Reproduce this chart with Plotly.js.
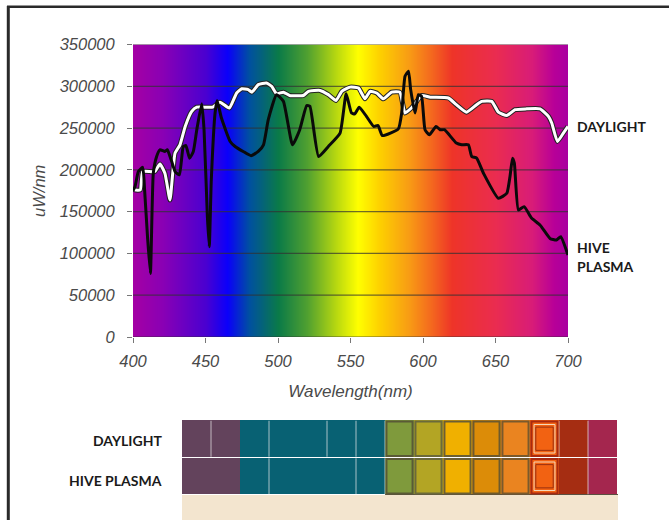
<!DOCTYPE html>
<html><head><meta charset="utf-8">
<script src="https://cdn.plot.ly/plotly-3.0.1.min.js"></script>
<style>html,body{margin:0;padding:0;background:#fff}</style></head>
<body><div id="chart" style="width:669px;height:520px"></div>
<script>
var W=669,H=520;
var wavelengthTicks=[400,450,500,550,600,650,700];
var powerTicks=[0,50000,100000,150000,200000,250000,300000,350000];
var spectrumStops=[400,420,450,465,480,500,520,540,555,570,590,605,620,650,675,690,700];
var spectrumColors=['#a400a4','#8a00b4','#4a00d0','#0a00fa','#0050a0','#0a7a48','#50a030','#b8d810','#ffff00','#fdd000','#f89c14','#f46a1e','#ee3428','#ea2c50','#d81c78','#b80098','#a800a0'];

var daylightX=[400,401.4,405,406.7,415,418.6,422,425.5,427.4,429,432.4,436,440.5,444,455,460,466.4,471.5,475,479.5,482,486.4,492,495.6,499,503.7,508,517.5,521,529,534.7,540,544,549.7,555.5,560,563.5,568,572.7,578.4,584,587.6,592,594,599,605,617.5,623,630,637,640.5,647.4,652,657.8,663.5,671.5,680.7,686.5,688.8,692.7,696.8,700];
var daylightY=[178000,176000,176000,198000,198000,207000,196000,164000,196000,220000,230000,252000,270000,275000,275000,281000,274000,292000,297000,296000,293000,302000,304000,300000,291000,293000,289000,289000,294000,295000,290000,283000,294000,299000,298000,285000,294000,292000,285000,293000,293000,268000,274000,278000,289000,287000,286000,278000,269000,278000,282000,282000,269000,265000,272000,273000,273000,264000,256000,234000,244000,252000];
var plasmaX=[400,401.4,403.7,406.7,408,410,412,414,416.3,418.6,422,423.7,426.7,429,432,434.7,436.5,439,441.6,444,447.4,449,451.3,452.6,454,456.6,458,461,467,470.4,476,481.4,486.4,490,493.3,499,503.7,510,515,519.8,522,528,534.7,542.8,547,550.7,553,556,561,566,569,572,583,585.3,587.6,590,591.5,594.5,596.8,599,601.4,604.4,609,611.8,614.8,623,626.7,631.3,633.6,637,641.7,652,657.8,660,661.7,663,665.8,669.7,675,680.7,687.6,692,695,700];
var plasmaY=[175000,180000,198000,203000,176000,120000,76000,196000,216000,224000,222000,224000,210000,198000,194000,228000,229000,214000,222000,248000,279000,248000,144000,108000,188000,268000,283000,262000,234000,228000,222000,217000,222000,230000,260000,290000,282000,230000,248000,277000,276000,216000,228000,244000,291000,268000,267000,275000,264000,252000,253000,241000,249000,268000,312000,318000,296000,268000,290000,288000,248000,242000,252000,248000,248000,232000,230000,230000,216000,214000,196000,166000,172000,192000,214000,208000,152000,156000,142000,134000,118000,116000,120000,98000];

var bandNames=['b1','b2','b3','b4','b5','b6','b7','b8','b9','b10','b11','b12','b13','b14','b15'];
var bandRows=['HIVE PLASMA','DAYLIGHT'];
var bandDaylight=[0,0,1,1,1,1,1,2,3,4,5,6,7,8,9];
var bandPlasma=[0,0,1,1,1,1,1,2,3,4,5,6,7,8,9];
var bandColors=['#63435c','#086173','#7f9a3c','#b3a524','#f0b000','#dc8c08','#ea8420','#f26212','#a52d12','#a4264e'];
var outlinedBands=[7,8,9,10,11,12];
var outlineColors=['#5a5a36','#6b6a3a','#6b5f34','#6e5a2c','#7a5a2c','#a82a10'];
var daylightSeparators=[0.5,2.5,4.5,5.5,6.5,12.5,13.5];
var plasmaSeparators=[2.5,5.5,6.5,13.5];

function fx(p){return p/W} function fy(p){return 1-p/H}
var dom={x:[fx(133),fx(568)],y:[fy(337),fy(44.5)]};
var dom2={x:[fx(182),fx(617)],y:[fy(495),fy(420)]};

var stopsColorscale=spectrumStops.map(function(s,i){return [(s-400)/300,spectrumColors[i]]});
var gridX=[],gridY=[];
powerTicks.forEach(function(v){gridX.push(400,700,null);gridY.push(v,v,null)});
var curveSmooth=0.45;

var traces=[
 {type:'heatmap',x:[400,700],y:[0,350000],z:[[400,700],[400,700]],colorscale:stopsColorscale,zmin:400,zmax:700,zsmooth:'best',showscale:false,hoverinfo:'skip'},
 {type:'scatter',mode:'lines',x:gridX,y:gridY,line:{color:'rgba(50,50,50,0.7)',width:1.2},hoverinfo:'skip',showlegend:false},
 {type:'scatter',mode:'lines',x:daylightX,y:daylightY,line:{color:'#222',width:5,shape:'spline',smoothing:curveSmooth},showlegend:false},
 {type:'scatter',mode:'lines',x:daylightX,y:daylightY,line:{color:'#fff',width:3,shape:'spline',smoothing:curveSmooth},name:'DAYLIGHT',showlegend:false},
 {type:'scatter',mode:'lines',x:plasmaX,y:plasmaY,line:{color:'#0a0a0a',width:3,shape:'spline',smoothing:curveSmooth},name:'HIVE PLASMA',showlegend:false},
 {type:'heatmap',xaxis:'x2',yaxis:'y2',x:bandNames,y:bandRows,z:[bandPlasma,bandDaylight],zmin:0,zmax:9,showscale:false,xgap:0,ygap:1,hoverinfo:'skip',
  colorscale:bandColors.reduce(function(a,c,i,arr){a.push([i/arr.length,c],[(i+1)/arr.length,c]);return a},[])}
];

var shapes=[
 {type:'line',xref:'paper',yref:'paper',x0:fx(7),x1:1,y0:fy(6.7),y1:fy(6.7),line:{color:'#2a2a2a',width:2.5},layer:'below'},
 {type:'line',xref:'paper',yref:'paper',x0:fx(8.3),x1:fx(8.3),y0:0,y1:fy(6),line:{color:'#2a2a2a',width:3},layer:'below'},
 {type:'rect',xref:'paper',yref:'paper',x0:fx(182),x1:fx(618),y0:0,y1:fy(495),line:{width:0},fillcolor:'#f3e5cf',layer:'below'},
 {type:'line',xref:'paper',yref:'paper',x0:fx(385),x1:fx(618),y0:fy(494.5),y1:fy(494.5),line:{color:'#5a5040',width:1},layer:'above'}
];
function addSeparators(list,row){
  list.forEach(function(b){
    shapes.push({type:'line',xref:'x2',yref:'y2',x0:b,x1:b,y0:row-0.48,y1:row+0.48,line:{color:'rgba(235,235,235,0.7)',width:1},layer:'above'});
  });
}
addSeparators(daylightSeparators,1);
addSeparators(plasmaSeparators,0);
outlinedBands.forEach(function(b,k){
  [0,1].forEach(function(r){
    shapes.push({type:'rect',xref:'x2',yref:'y2',x0:b-0.45,x1:b+0.45,y0:r-0.46,y1:r+0.46,line:{color:outlineColors[k],width:2},fillcolor:'rgba(0,0,0,0)',layer:'above'});
    if(b===12){
      shapes.push({type:'rect',xref:'x2',yref:'y2',x0:b-0.36,x1:b+0.36,y0:r-0.38,y1:r+0.38,line:{color:'#f5d8b8',width:1},fillcolor:'rgba(0,0,0,0)',layer:'above'});
      shapes.push({type:'rect',xref:'x2',yref:'y2',x0:b-0.3,x1:b+0.3,y0:r-0.31,y1:r+0.31,line:{color:'#9a3010',width:1},fillcolor:'rgba(0,0,0,0)',layer:'above'});
    }
  });
});

var labelFont={family:'Lato, "Noto Sans", sans-serif',size:14,color:'#1a1a1a',weight:700};
var annotations=[
 {text:'<b>DAYLIGHT</b>',xref:'paper',yref:'paper',x:fx(575),y:fy(126),xanchor:'left',yanchor:'middle',showarrow:false,font:labelFont},
 {text:'<b>HIVE</b>',xref:'paper',yref:'paper',x:fx(575),y:fy(247),xanchor:'left',yanchor:'middle',showarrow:false,font:labelFont},
 {text:'<b>PLASMA</b>',xref:'paper',yref:'paper',x:fx(575),y:fy(266),xanchor:'left',yanchor:'middle',showarrow:false,font:labelFont},
 {text:'<b>DAYLIGHT</b>',xref:'paper',yref:'paper',x:fx(164),y:fy(440),xanchor:'right',yanchor:'middle',showarrow:false,font:labelFont},
 {text:'<b>HIVE PLASMA</b>',xref:'paper',yref:'paper',x:fx(164),y:fy(480),xanchor:'right',yanchor:'middle',showarrow:false,font:labelFont}
];

var tickFont={family:'"Liberation Sans", Arial, sans-serif',size:16.5,color:'#4a4a4a',style:'italic'};
var xTitleFont={family:'"Liberation Sans", Arial, sans-serif',size:17,color:'#4a4a4a',style:'italic'};
var layout={
 width:W,height:H,margin:{l:0,r:0,t:0,b:0},paper_bgcolor:'#fff',plot_bgcolor:'#fff',showlegend:false,
 xaxis:{domain:dom.x,range:[400,700],tickmode:'array',tickvals:wavelengthTicks,ticks:'outside',ticklen:5,tickcolor:'#777',tickfont:tickFont,ticklabelstandoff:4,showgrid:false,zeroline:false,showline:false,automargin:false,
   title:{text:'Wavelength(nm)',font:xTitleFont,standoff:16}},
 yaxis:{domain:dom.y,range:[0,350000],tickmode:'array',tickvals:powerTicks,tickformat:'d',ticks:'outside',ticklen:5,tickcolor:'#777',tickfont:tickFont,ticklabelstandoff:9,showgrid:false,zeroline:false,showline:false,automargin:false,
   title:{text:'uW/nm',font:tickFont,standoff:8}},
 xaxis2:{domain:dom2.x,anchor:'y2',type:'category',visible:false,fixedrange:true},
 yaxis2:{domain:dom2.y,anchor:'x2',type:'category',visible:false,fixedrange:true},
 shapes:shapes,annotations:annotations
};
Plotly.newPlot('chart',traces,layout,{displayModeBar:false,staticPlot:true});
</script></body></html>
